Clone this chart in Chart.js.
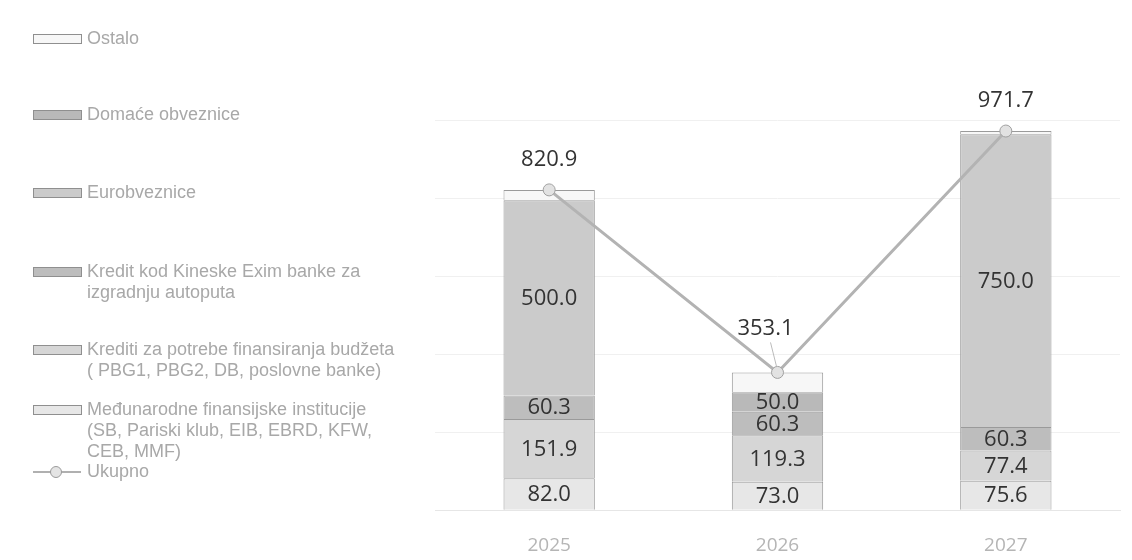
<!DOCTYPE html>
<html>
<head>
<meta charset="utf-8">
<script src="https://cdn.jsdelivr.net/npm/chart.js@4"></script>
<style>
  html, body { margin: 0; padding: 0; background: #fff; overflow: hidden; }
  #wrap { position: relative; width: 1132px; height: 560px; overflow: hidden; }
  #chart { position: absolute; left: 0; top: 0; }
  .item { position: absolute; left: 33px; font-family: "Liberation Sans", Arial, sans-serif; font-size: 18px; line-height: 21px; color: #a8a8a8; white-space: pre; }
  .sw { position: absolute; left: 0; top: 6px; width: 47px; height: 8px; border: 1px solid #8f8f8f; }
  .txt { position: absolute; left: 54px; top: 0; }
  .ln { position: absolute; left: 0; top: 10px; width: 48px; height: 2px; background: #b0b0b0; }
  .pt { position: absolute; left: 17px; top: 5px; width: 10px; height: 10px; border-radius: 50%; border: 1px solid #9a9a9a; background: #e4e4e4; }
</style>
</head>
<body>
<div id="wrap">
  <canvas id="chart" width="1132" height="577"></canvas>
</div>
<script>
// categories
const years = ['2025', '2026', '2027'];

// series (bottom of stack first)
const medjunarodne = [82.0, 73.0, 75.6];
const kreditiBudzet = [151.9, 119.3, 77.4];
const kreditExim = [60.3, 60.3, 60.3];
const eurobveznice = [500.0, 0, 750.0];
const domaceObveznice = [0, 50.0, 0];
const ostalo = [26.7, 50.5, 8.4];
const ukupno = [820.9, 353.1, 971.7];

const seriesNames = {
    medjunarodne: 'Međunarodne finansijske institucije\n(SB, Pariski klub, EIB, EBRD, KFW,\nCEB, MMF)',
    kreditiBudzet: 'Krediti za potrebe finansiranja budžeta\n( PBG1, PBG2, DB, poslovne banke)',
    kreditExim: 'Kredit kod Kineske Exim banke za\nizgradnju autoputa',
    eurobveznice: 'Eurobveznice',
    domace: 'Domaće obveznice',
    ostalo: 'Ostalo',
    ukupno: 'Ukupno'
};

const fills = {
    medjunarodne: '#e7e7e7',
    kreditiBudzet: '#d6d6d6',
    kreditExim: '#bdbdbd',
    eurobveznice: '#cbcbcb',
    domace: '#b9b9b9',
    ostalo: '#f7f7f7'
};

function barSet(label, data, color) {
    return {
        type: 'bar',
        label: label,
        data: data,
        backgroundColor: color,
        borderColor: '#9a9a9a',
        borderWidth: 1,
        stack: 'bars',
        order: 1,
        barPercentage: 0.8,
        categoryPercentage: 0.5
    };
}

const datasets = [
    barSet(seriesNames.medjunarodne, medjunarodne, fills.medjunarodne),
    barSet(seriesNames.kreditiBudzet, kreditiBudzet, fills.kreditiBudzet),
    barSet(seriesNames.kreditExim, kreditExim, fills.kreditExim),
    barSet(seriesNames.eurobveznice, eurobveznice, fills.eurobveznice),
    barSet(seriesNames.domace, domaceObveznice, fills.domace),
    barSet(seriesNames.ostalo, ostalo, fills.ostalo),
    {
        type: 'line',
        label: seriesNames.ukupno,
        data: ukupno,
        borderColor: '#b3b3b3',
        borderWidth: 3,
        pointRadius: 6,
        pointBackgroundColor: '#e2e2e2',
        pointBorderColor: '#a0a0a0',
        pointBorderWidth: 1,
        stack: 'line',
        order: 0,
        tension: 0
    }
];

// value labels inside segments and above the total line
const valueLabels = {
    id: 'valueLabels',
    afterDatasetsDraw(chart) {
        const ctx = chart.ctx;
        ctx.save();
        ctx.font = '22px "Open Sans", "Noto Sans", sans-serif';
        ctx.fillStyle = '#333';
        ctx.textAlign = 'center';
        ctx.textBaseline = 'middle';
        chart.data.datasets.forEach((ds, i) => {
            if (ds.type !== 'bar' || ds.label === seriesNames.ostalo) return;
            const meta = chart.getDatasetMeta(i);
            meta.data.forEach((bar, j) => {
                const v = ds.data[j];
                if (!v) return;
                ctx.fillText(v.toFixed(1), bar.x, (bar.y + bar.base) / 2 + 1);
            });
        });
        const lineIdx = chart.data.datasets.length - 1;
        const lineMeta = chart.getDatasetMeta(lineIdx);
        lineMeta.data.forEach((pt, j) => {
            let dx = 0, dy = -30;
            if (j === 1) {
                dx = -12; dy = -44;
                ctx.strokeStyle = '#bbb';
                ctx.lineWidth = 1;
                ctx.beginPath();
                ctx.moveTo(pt.x - 7, pt.y - 30);
                ctx.lineTo(pt.x - 1, pt.y - 6);
                ctx.stroke();
            }
            ctx.fillText(ukupno[j].toFixed(1), pt.x + dx, pt.y + dy);
        });
        ctx.restore();
    }
};

new Chart(document.getElementById('chart').getContext('2d'), {
    data: { labels: years, datasets: datasets },
    options: {
        responsive: false,
        animation: false,
        layout: { padding: { left: 435, right: 12, top: 120, bottom: 4 } },
        plugins: { legend: { display: false }, tooltip: { enabled: false } },
        scales: {
            x: {
                stacked: true,
                grid: { display: false },
                border: { display: true, color: '#e6e6e6' },
                ticks: { color: '#b5b5b5', padding: 16, font: { size: 19, family: '"Open Sans", sans-serif' } }
            },
            y: {
                stacked: true,
                min: 0,
                max: 1000,
                ticks: { display: false, stepSize: 200 },
                grid: { color: '#f0f0f0', drawTicks: false },
                border: { display: false }
            }
        }
    },
    plugins: [valueLabels]
});

// legend on the left, built from the series names
const legendItems = [
    { key: 'ostalo', top: 28 },
    { key: 'domace', top: 104 },
    { key: 'eurobveznice', top: 182 },
    { key: 'kreditExim', top: 261 },
    { key: 'kreditiBudzet', top: 339 },
    { key: 'medjunarodne', top: 399 },
    { key: 'ukupno', top: 461 }
];
const wrap = document.getElementById('wrap');
legendItems.forEach(it => {
    const div = document.createElement('div');
    div.className = 'item';
    div.style.top = it.top + 'px';
    if (it.key === 'ukupno') {
        div.innerHTML = '<span class="ln"></span><span class="pt"></span>';
    } else {
        div.innerHTML = '<span class="sw" style="background:' + fills[it.key] + '"></span>';
    }
    const t = document.createElement('span');
    t.className = 'txt';
    t.textContent = seriesNames[it.key];
    div.appendChild(t);
    wrap.appendChild(div);
});
</script>
</body>
</html>
